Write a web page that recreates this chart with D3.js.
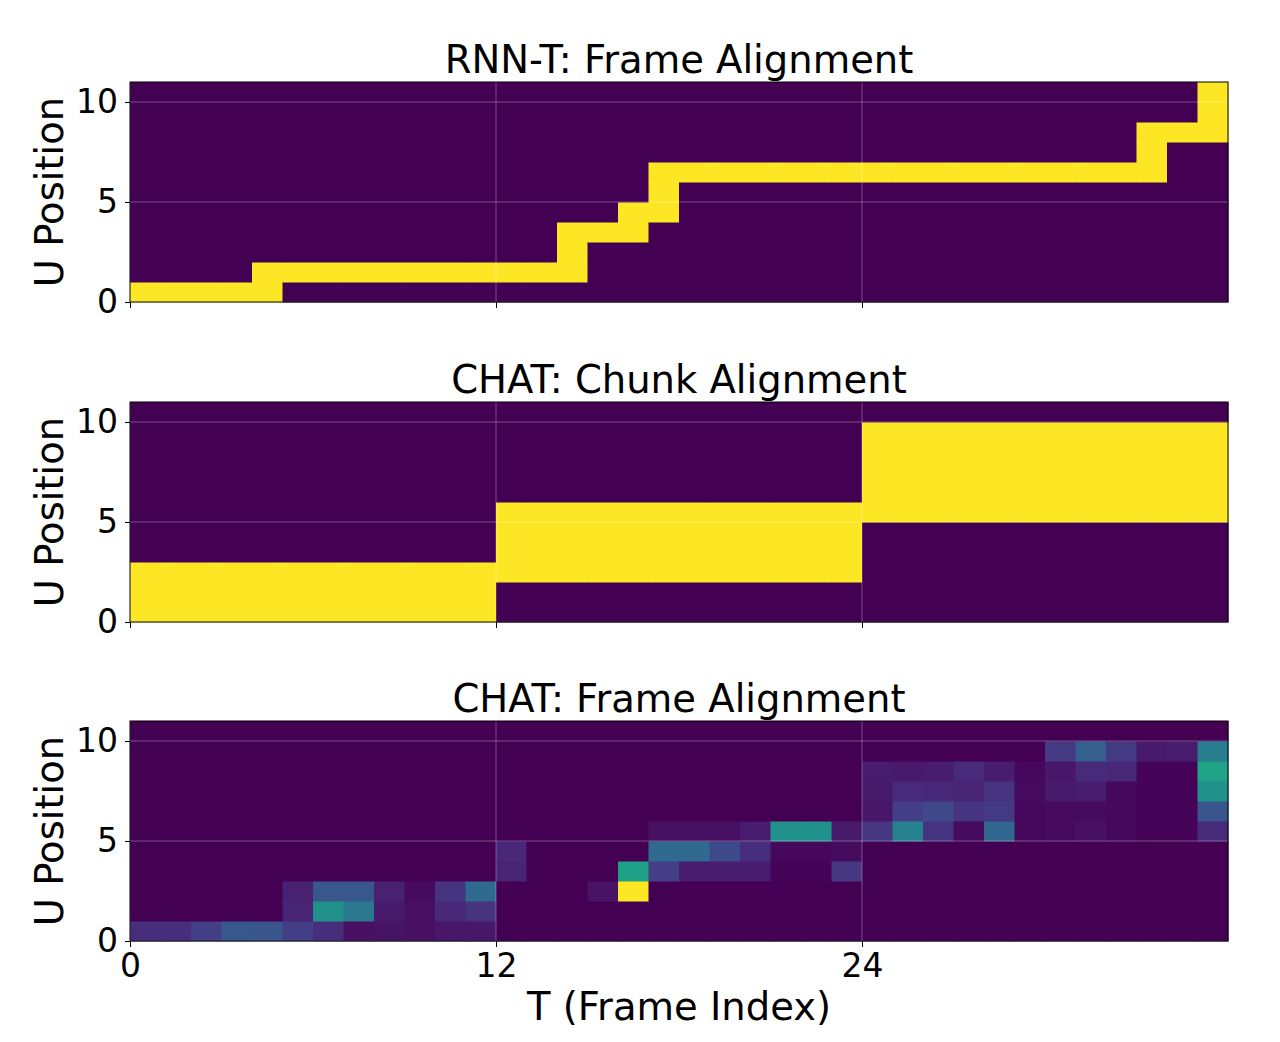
<!DOCTYPE html>
<html>
<head>
<meta charset="utf-8">
<script src="https://cdn.jsdelivr.net/npm/d3@7"></script>
<style>
  body { margin: 0; background: #fff; }
  text { font-family: 'DejaVu Sans', sans-serif; fill: #000; }
</style>
</head>
<body>
<svg id="chart" width="1280" height="1042"></svg>
<script>
// ---- data ----
var numFrames = 36;   // T
var numTokens = 11;   // U rows
var tTicks = [0, 12, 24];
var uTicks = [0, 5, 10];
var panelTitles = ['RNN-T: Frame Alignment', 'CHAT: Chunk Alignment', 'CHAT: Frame Alignment'];

// RNN-T hard alignment: for each frame, the lowest and highest U cell that is on
var rnntFrom = [0,0,0,0,0,1,1,1,1,1,1,1,1,1,1,3,3,4,6,6,6,6,6,6,6,6,6,6,6,6,6,6,6,6,8,8];
var rnntTo   = [0,0,0,0,1,1,1,1,1,1,1,1,1,1,3,3,4,6,6,6,6,6,6,6,6,6,6,6,6,6,6,6,6,8,8,10];

// CHAT chunk alignment: 12-frame chunks and the U range each chunk covers
var chunkSize = 12;
var chunkFrom = [0, 2, 5];
var chunkTo   = [2, 5, 9];

// CHAT frame alignment (soft), one row per U position, 36 frames each
var chatU0  = [0.13,0.13,0.18,0.27,0.26,0.18,0.13,0.04,0.05,0.04,0.06,0.06,0,0,0,0,0,0,0,0,0,0,0,0,0,0,0,0,0,0,0,0,0,0,0,0];
var chatU1  = [0,0,0,0,0,0.10,0.50,0.40,0.07,0.04,0.11,0.15,0,0,0,0,0,0,0,0,0,0,0,0,0,0,0,0,0,0,0,0,0,0,0,0];
var chatU2  = [0,0,0,0,0,0.09,0.27,0.27,0.09,0.03,0.15,0.34,0,0,0,0.05,1.00,0,0,0,0,0,0,0,0,0,0,0,0,0,0,0,0,0,0,0];
var chatU3  = [0,0,0,0,0,0,0,0,0,0,0,0,0.10,0,0,0,0.57,0.18,0.08,0.08,0.08,0.01,0.01,0.16,0,0,0,0,0,0,0,0,0,0,0,0];
var chatU4  = [0,0,0,0,0,0,0,0,0,0,0,0,0.11,0,0,0,0,0.34,0.34,0.22,0.13,0.02,0.02,0.03,0,0,0,0,0,0,0,0,0,0,0,0];
var chatU5  = [0,0,0,0,0,0,0,0,0,0,0,0,0,0,0,0,0,0.04,0.04,0.04,0.08,0.50,0.50,0.07,0.16,0.44,0.15,0.03,0.33,0.02,0.03,0.04,0.02,0.01,0.01,0.12];
var chatU6  = [0,0,0,0,0,0,0,0,0,0,0,0,0,0,0,0,0,0,0,0,0,0,0,0,0.06,0.18,0.22,0.15,0.17,0.02,0.03,0.03,0.02,0.01,0.01,0.26];
var chatU7  = [0,0,0,0,0,0,0,0,0,0,0,0,0,0,0,0,0,0,0,0,0,0,0,0,0.07,0.12,0.11,0.10,0.15,0.03,0.07,0.08,0.02,0.01,0.01,0.50];
var chatU8  = [0,0,0,0,0,0,0,0,0,0,0,0,0,0,0,0,0,0,0,0,0,0,0,0,0.08,0.07,0.08,0.12,0.08,0.02,0.06,0.12,0.11,0.01,0.01,0.58];
var chatU9  = [0,0,0,0,0,0,0,0,0,0,0,0,0,0,0,0,0,0,0,0,0,0,0,0,0,0,0,0,0,0,0.17,0.30,0.17,0.07,0.08,0.42];
var chatU10 = [0,0,0,0,0,0,0,0,0,0,0,0,0,0,0,0,0,0,0,0,0,0,0,0,0,0,0,0,0,0,0,0,0,0,0,0];
var chatRows = [chatU0, chatU1, chatU2, chatU3, chatU4, chatU5, chatU6, chatU7, chatU8, chatU9, chatU10];

// ---- build cell lists (t, u, value) for each panel ----
function rnntCells() {
  var cells = [];
  for (var t = 0; t < numFrames; t++) {
    for (var u = 0; u < numTokens; u++) {
      cells.push({ t: t, u: u, v: (u >= rnntFrom[t] && u <= rnntTo[t]) ? 1 : 0 });
    }
  }
  return cells;
}
function chunkCells() {
  var cells = [];
  for (var t = 0; t < numFrames; t++) {
    var c = Math.floor(t / chunkSize);
    for (var u = 0; u < numTokens; u++) {
      cells.push({ t: t, u: u, v: (u >= chunkFrom[c] && u <= chunkTo[c]) ? 1 : 0 });
    }
  }
  return cells;
}
function chatCells() {
  var cells = [];
  chatRows.forEach(function (row, u) {
    row.forEach(function (v, t) { cells.push({ t: t, u: u, v: v }); });
  });
  return cells;
}
var panelCells = [rnntCells(), chunkCells(), chatCells()];

// ---- layout ----
var left = 130, right = 1228;
var panelTops = [82, 402, 721];
var panelHeight = 220;

var svg = d3.select('#chart');

var xScale = d3.scaleLinear().domain([0, numFrames]).range([left, right]);
var color = d3.scaleSequential(d3.interpolateViridis).domain([0, 1]);

panelTops.forEach(function (top, i) {
  var yScale = d3.scaleLinear().domain([0, numTokens]).range([top + panelHeight, top]);
  var g = svg.append('g');
  var isLast = i === panelTops.length - 1;

  // heatmap cells
  g.selectAll('rect.cell')
    .data(panelCells[i])
    .enter()
    .append('rect')
    .attr('class', 'cell')
    .attr('x', function (d) { return xScale(d.t); })
    .attr('y', function (d) { return yScale(d.u + 1); })
    .attr('width', function (d) { return xScale(d.t + 1) - xScale(d.t) + 0.5; })
    .attr('height', function (d) { return yScale(d.u) - yScale(d.u + 1) + 0.5; })
    .attr('fill', function (d) { return color(d.v); });

  // grid lines on top of the image
  g.selectAll('line.gx')
    .data(tTicks)
    .enter()
    .append('line')
    .attr('x1', function (d) { return xScale(d); })
    .attr('x2', function (d) { return xScale(d); })
    .attr('y1', top)
    .attr('y2', top + panelHeight)
    .attr('stroke', '#fff')
    .attr('stroke-opacity', 0.3)
    .attr('stroke-width', 1);
  g.selectAll('line.gy')
    .data(uTicks)
    .enter()
    .append('line')
    .attr('x1', left)
    .attr('x2', right)
    .attr('y1', function (d) { return yScale(d); })
    .attr('y2', function (d) { return yScale(d); })
    .attr('stroke', '#fff')
    .attr('stroke-opacity', 0.3)
    .attr('stroke-width', 1);

  // frame
  g.append('rect')
    .attr('x', left)
    .attr('y', top)
    .attr('width', right - left)
    .attr('height', panelHeight)
    .attr('fill', 'none')
    .attr('stroke', '#000')
    .attr('stroke-width', 1);

  // axes
  var yAxis = d3.axisLeft(yScale).tickValues(uTicks).tickSize(5).tickPadding(7);
  var yg = g.append('g')
    .attr('transform', 'translate(' + left + ',0)')
    .call(yAxis);
  yg.select('.domain').remove();
  yg.selectAll('text').style('font-size', '33px');

  var xAxis = d3.axisBottom(xScale).tickValues(tTicks).tickSize(6).tickPadding(7);
  if (!isLast) xAxis.tickFormat('');
  var xg = g.append('g')
    .attr('transform', 'translate(0,' + (top + panelHeight) + ')')
    .call(xAxis);
  xg.select('.domain').remove();
  xg.selectAll('text').style('font-size', '33px');

  // title
  g.append('text')
    .attr('x', (left + right) / 2)
    .attr('y', top - 9)
    .attr('text-anchor', 'middle')
    .style('font-size', '38.5px')
    .text(panelTitles[i]);

  // y label
  g.append('text')
    .attr('transform', 'translate(63,' + (top + panelHeight / 2) + ') rotate(-90)')
    .attr('text-anchor', 'middle')
    .style('font-size', '38.5px')
    .text('U Position');
});

// x label
svg.append('text')
  .attr('x', (left + right) / 2)
  .attr('y', 1020)
  .attr('text-anchor', 'middle')
  .style('font-size', '38.5px')
  .text('T (Frame Index)');
</script>
</body>
</html>
